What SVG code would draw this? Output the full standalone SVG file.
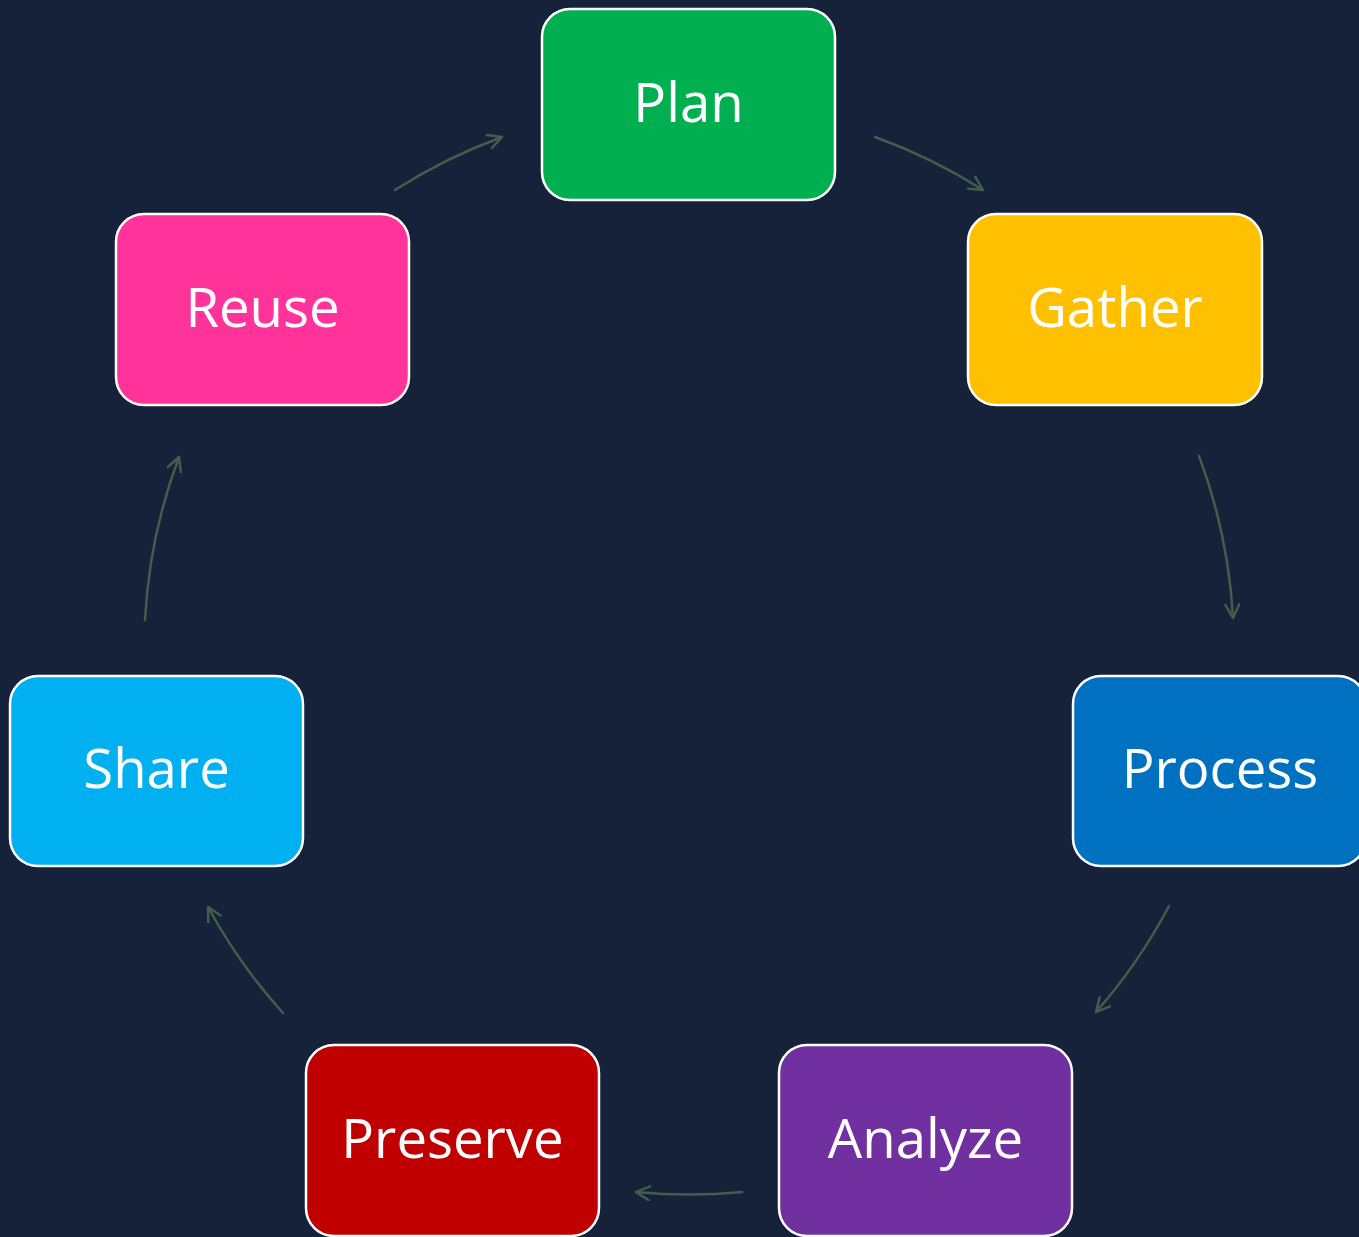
<svg xmlns="http://www.w3.org/2000/svg" width="1359" height="1237" viewBox="0 0 1359 1237">
  <style>
    .box { stroke: #ffffff; stroke-width: 2.5; }
    .label { font-family: "Open Sans", "Noto Sans", "DejaVu Sans", sans-serif; font-size: 54.5px; fill: #ffffff; text-anchor: middle; }
    .link { fill: none; stroke: #475c4a; stroke-width: 2.5; stroke-linecap: round; marker-end: url(#head); }
  </style>
  <defs>
    <marker id="head" viewBox="0 0 16 16" refX="15" refY="8" markerWidth="16" markerHeight="16" markerUnits="userSpaceOnUse" orient="auto">
      <path d="M1.5,1 L15,8 L1.5,15" fill="none" stroke="#475c4a" stroke-width="2.4" stroke-linecap="round" stroke-linejoin="round"/>
    </marker>
  </defs>

  <rect width="1359" height="1237" fill="#15223a"/>

  <!-- cycle connectors, arcs on a circle around (688.5, 650) -->
  <g id="connectors">
    <path class="link" d="M395,190 A546,546 0 0 1 502,137"/>
    <path class="link" d="M875,137 A546,546 0 0 1 983,190"/>
    <path class="link" d="M1199,456 A546,546 0 0 1 1233,618"/>
    <path class="link" d="M1169,906 A546,546 0 0 1 1096,1012"/>
    <path class="link" d="M742,1192 A546,546 0 0 1 636,1192"/>
    <path class="link" d="M283,1013 A546,546 0 0 1 208,907"/>
    <path class="link" d="M145,620 A546,546 0 0 1 179,457"/>
  </g>

  <g id="plan">
    <rect class="box" x="542" y="9" width="293" height="191" rx="28" fill="#00b050"/>
    <text class="label" x="688.5" y="122">Plan</text>
  </g>
  <g id="gather">
    <rect class="box" x="968" y="214" width="294" height="191" rx="28" fill="#ffc000"/>
    <text class="label" x="1115" y="327">Gather</text>
  </g>
  <g id="process">
    <rect class="box" x="1073" y="676" width="293" height="190" rx="28" fill="#0070c0"/>
    <text class="label" x="1220" y="788">Process</text>
  </g>
  <g id="analyze">
    <rect class="box" x="779" y="1045" width="293" height="191" rx="28" fill="#7030a0"/>
    <text class="label" x="925.5" y="1158">Analyze</text>
  </g>
  <g id="preserve">
    <rect class="box" x="306" y="1045" width="293" height="191" rx="28" fill="#c00000"/>
    <text class="label" x="452.5" y="1158">Preserve</text>
  </g>
  <g id="share">
    <rect class="box" x="10" y="676" width="293" height="190" rx="28" fill="#00b0f0"/>
    <text class="label" x="156.5" y="788">Share</text>
  </g>
  <g id="reuse">
    <rect class="box" x="116" y="214" width="293" height="191" rx="28" fill="#ff3399"/>
    <text class="label" x="262.5" y="327">Reuse</text>
  </g>
</svg>
